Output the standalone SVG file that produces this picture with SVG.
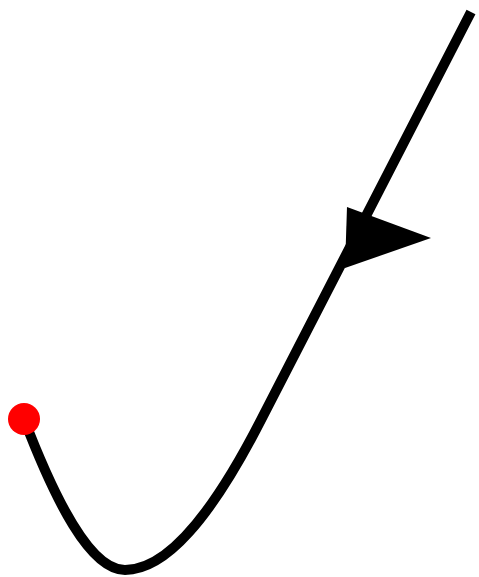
<svg xmlns="http://www.w3.org/2000/svg" width="479" height="577" viewBox="0 0 479 577">
<style>
.edge{fill:none;stroke:#000;stroke-width:10}
</style>
<rect width="479" height="577" fill="#fff"/>
<g id="connectors">
<path class="edge" d="M 24 419 C 55 500, 90 570, 125 570 C 165 570, 210 520, 262 418 L 471 12"/>
<polygon points="347,207 431,238 345,268" fill="#000"/>
</g>
<g id="start">
<circle cx="24" cy="419" r="16" fill="#f00"/>
</g>
</svg>
